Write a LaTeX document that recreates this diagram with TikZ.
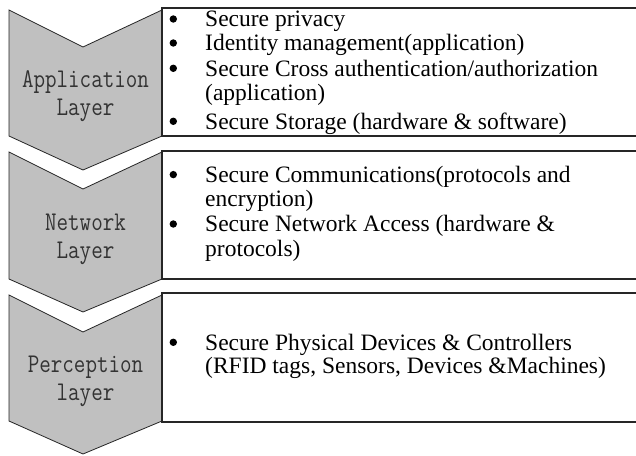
\documentclass[tikz,border=0pt]{standalone}
\usepackage{fontspec}
\setmainfont{Liberation Serif}
\usepackage{graphicx}
\definecolor{chevgray}{RGB}{192,192,192}
\begin{document}
\begin{tikzpicture}[x=1pt,y=-1pt,
  chev/.style={fill=chevgray, draw=black!85, line width=0.8pt, line join=miter},
  panel/.style={draw=black!85, line width=1.3pt},
  item/.style={anchor=base west, font=\fontsize{23.5}{25}\selectfont, inner sep=0pt},
  dotitem/.style={circle, fill=black, inner sep=0pt, minimum size=7.4pt},
  lbl/.style={anchor=base, font=\fontsize{27}{28}\selectfont\ttfamily, text=black!80, inner sep=0pt}]
\clip (0,0) rectangle (636,455);
\fill[white] (0,0) rectangle (636,455);
% chevrons
\draw[chev] (9,10) -- (83,47) -- (162,10) -- (162,136) -- (83,170) -- (9,136) -- cycle;
\draw[chev] (9,152) -- (83,189) -- (162,152) -- (162,279) -- (83,312) -- (9,279) -- cycle;
\draw[chev] (9,295) -- (83,332) -- (162,295) -- (162,421) -- (83,454) -- (9,421) -- cycle;
% panels (open to the right edge)
\draw[panel] (640,8) -- (162,8) -- (162,136) -- (640,136);
\draw[panel] (640,151) -- (162,151) -- (162,279) -- (640,279);
\draw[panel] (640,293) -- (162,293) -- (162,422) -- (640,422);
% layer labels
\node[lbl] (app1) at (85.5,87.5) {\scalebox{0.83}[1]{Application}};
\node[lbl] (app2) at (85.5,115.2) {\scalebox{0.83}[1]{Layer}};
\node[lbl] (net1) at (85.5,230.3) {\scalebox{0.83}[1]{Network}};
\node[lbl] (net2) at (85.5,258) {\scalebox{0.83}[1]{Layer}};
\node[lbl] (per1) at (85.5,372.3) {\scalebox{0.83}[1]{Perception}};
\node[lbl] (per2) at (85.5,400) {\scalebox{0.83}[1]{layer}};
% bullets
\node[dotitem] (b1) at (173.3,19) {};
\node[dotitem] (b2) at (173.3,43) {};
\node[dotitem] (b3) at (173.3,68.3) {};
\node[dotitem] (b4) at (173.3,121.3) {};
\node[dotitem] (b5) at (173.3,174.6) {};
\node[dotitem] (b6) at (173.3,224) {};
\node[dotitem] (b7) at (173.3,342.3) {};
% items
\node[item] (t1) at (205,26.7) {Secure privacy};
\node[item] (t2) at (205,50.7) {Identity management(application)};
\node[item] (t3a) at (205,76) {Secure Cross authentication/authorization};
\node[item] (t3b) at (205,100) {(application)};
\node[item] (t4) at (205,129) {Secure Storage (hardware \& software)};
\node[item] (t5a) at (205,182.3) {Secure Communications(protocols and};
\node[item] (t5b) at (205,206.7) {encryption)};
\node[item] (t6a) at (205,231.7) {Secure Network Access (hardware \&};
\node[item] (t6b) at (205,256.7) {protocols)};
\node[item] (t7a) at (205,350) {Secure Physical Devices \& Controllers};
\node[item] (t7b) at (205,373.3) {(RFID tags, Sensors, Devices \&Machines)};
\end{tikzpicture}
\end{document}
